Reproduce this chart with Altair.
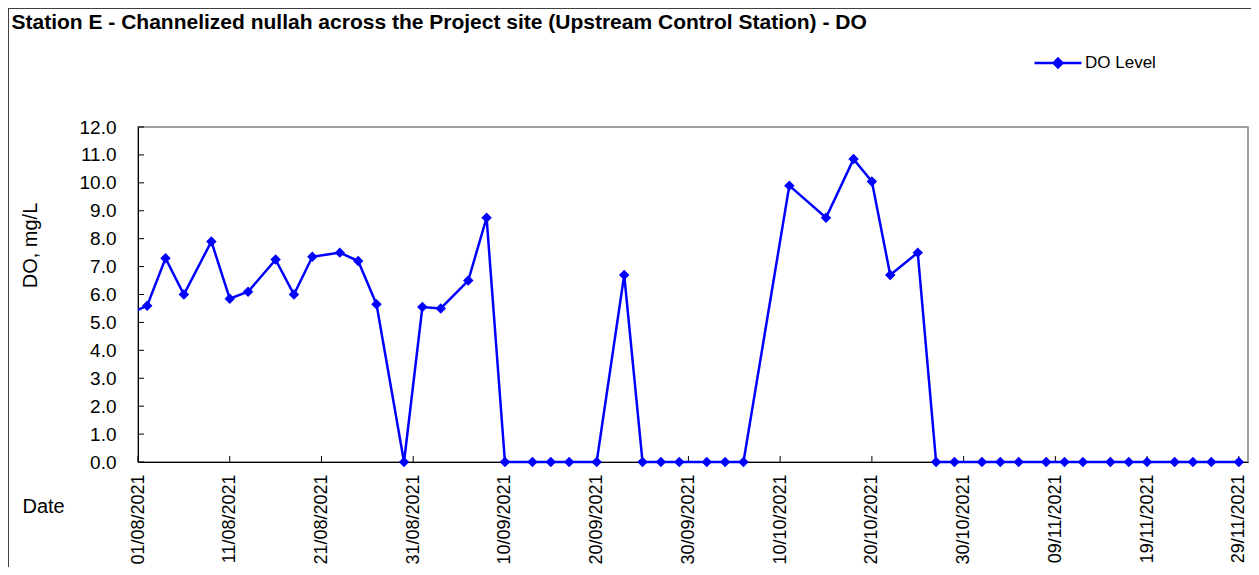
import altair as alt
import pandas as pd

# ---- data ----
dates = [
    "2021-07-31", "2021-08-02", "2021-08-04", "2021-08-06", "2021-08-09", "2021-08-11",
    "2021-08-13", "2021-08-16", "2021-08-18", "2021-08-20", "2021-08-23", "2021-08-25",
    "2021-08-27", "2021-08-30", "2021-09-01", "2021-09-03", "2021-09-06", "2021-09-08",
    "2021-09-10", "2021-09-13", "2021-09-15", "2021-09-17", "2021-09-20", "2021-09-23",
    "2021-09-25", "2021-09-27", "2021-09-29", "2021-10-02", "2021-10-04", "2021-10-06",
    "2021-10-11", "2021-10-15", "2021-10-18", "2021-10-20", "2021-10-22", "2021-10-25",
    "2021-10-27", "2021-10-29", "2021-11-01", "2021-11-03", "2021-11-05", "2021-11-08",
    "2021-11-10", "2021-11-12", "2021-11-15", "2021-11-17", "2021-11-19", "2021-11-22",
    "2021-11-24", "2021-11-26", "2021-11-29",
]
do_values = [
    5.3, 5.6, 7.3, 6.0, 7.9, 5.85,
    6.1, 7.25, 6.0, 7.35, 7.5, 7.2,
    5.65, 0.0, 5.55, 5.5, 6.5, 8.75,
    0.0, 0.0, 0.0, 0.0, 0.0, 6.7,
    0.0, 0.0, 0.0, 0.0, 0.0, 0.0,
    9.9, 8.75, 10.85, 10.05, 6.7, 7.5,
    0.0, 0.0, 0.0, 0.0, 0.0, 0.0,
    0.0, 0.0, 0.0, 0.0, 0.0, 0.0,
    0.0, 0.0, 0.0,
]
x_tick_dates = [
    "2021-08-01", "2021-08-11", "2021-08-21", "2021-08-31", "2021-09-10", "2021-09-20",
    "2021-09-30", "2021-10-10", "2021-10-20", "2021-10-30", "2021-11-09", "2021-11-19",
    "2021-11-29",
]
x_domain = ["2021-08-01", "2021-11-30"]
y_ticks = [0, 1, 2, 3, 4, 5, 6, 7, 8, 9, 10, 11, 12]
series_name = "DO Level"
chart_title = "Station E - Channelized nullah across the Project site (Upstream Control Station) - DO"
y_title = "DO, mg/L"
x_title = "Date"

df = pd.DataFrame({"date": dates, "value": do_values, "series": series_name})
df["idx"] = range(len(df))

W, H = 1110, 335
FONT = "Liberation Sans, Arial, sans-serif"
BLUE = "#0000FF"


def dt(s):
    y, m, d = map(int, s.split("-"))
    return alt.DateTime(year=y, month=m, date=d, utc=True)


x_scale = alt.Scale(type="utc", domain=[dt(x_domain[0]), dt(x_domain[1])])
y_scale = alt.Scale(domain=[0, 12], nice=False, zero=True)

x_axis = alt.Axis(
    values=[dt(s) for s in x_tick_dates], format="%d/%m/%Y", labelAngle=-90,
    labelFontSize=18, labelFont=FONT, labelColor="black", labelPadding=12,
    labelOverlap=False, labelFlush=False, ticks=False, domainColor="black",
    domainWidth=1, grid=False, title=x_title, titleX=-116, titleY=44,
    titleAlign="left", titleBaseline="middle", titleAngle=0, titleFontSize=20,
    titleFont=FONT, titleFontWeight="normal", titleColor="black",
)
y_axis = alt.Axis(
    values=y_ticks, format=".1f", labelFontSize=19, labelFont=FONT,
    labelColor="black", labelPadding=22, ticks=False, domainColor="black",
    domainWidth=1, grid=False, title=y_title, titleX=-108, titleY=118,
    titleAngle=-90, titleAlign="center", titleBaseline="middle", titleFontSize=20,
    titleFont=FONT, titleFontWeight="normal", titleColor="black",
)

legend = alt.Legend(
    title=None, orient="none", legendX=895, legendY=-89,
    symbolType="M-1,0L1,0M0,-0.19L0.19,0L0,0.19L-0.19,0Z", symbolSize=2209,
    symbolStrokeWidth=2.5, symbolFillColor=BLUE, symbolStrokeColor=BLUE,
    symbolOpacity=1,
    labelFontSize=17, labelFont=FONT, labelColor="black", labelOffset=2, padding=0,
)

color = alt.Color("series:N", scale=alt.Scale(range=[BLUE]), legend=legend)
xenc = alt.X("date:T", scale=x_scale, axis=x_axis)
yenc = alt.Y("value:Q", scale=y_scale, axis=y_axis)

line_first = (
    alt.Chart(df).transform_filter("datum.idx <= 1")
    .mark_line(strokeWidth=2.5, clip=True)
    .encode(x=xenc, y=yenc, color=color)
)
line_rest = (
    alt.Chart(df).transform_filter("datum.idx >= 1")
    .mark_line(strokeWidth=2.5)
    .encode(x=xenc, y=yenc, color=color)
)
points = (
    alt.Chart(df).transform_filter("datum.idx >= 1")
    .mark_point(shape="diamond", filled=True, size=110, color=BLUE, opacity=1)
    .encode(x=xenc, y=yenc)
)

y_tick_marks = (
    alt.Chart(pd.DataFrame({"v": y_ticks}))
    .mark_rule(color="black", strokeWidth=1)
    .encode(y=alt.Y("v:Q", scale=y_scale, axis=y_axis), x=alt.value(0), x2=alt.value(6))
)
x_tick_marks = (
    alt.Chart(pd.DataFrame({"d": x_tick_dates}))
    .mark_rule(color="black", strokeWidth=1)
    .encode(x=alt.X("d:T", scale=x_scale, axis=x_axis), y=alt.value(H), y2=alt.value(H - 6))
)

frame_src = pd.DataFrame({"a": [0]})
frame_left = alt.Chart(frame_src).mark_rule(color="#404040", strokeWidth=1).encode(
    x=alt.value(-129.5), y=alt.value(-119), y2=alt.value(H + 105))
frame_top = alt.Chart(frame_src).mark_rule(color="#404040", strokeWidth=1).encode(
    y=alt.value(-118.5), x=alt.value(-130), x2=alt.value(W + 3))

chart = (
    alt.layer(x_tick_marks, y_tick_marks, line_first, line_rest, points, frame_left, frame_top)
    .properties(
        width=W, height=H,
        title=alt.TitleParams(text=chart_title, anchor="start", font=FONT, fontSize=21,
                              fontWeight="bold", color="black", dx=4, offset=-21,
                              baseline="alphabetic", dy=21),
        padding={"left": 130, "top": 119, "right": 3, "bottom": 105},
        autosize=alt.AutoSizeParams(type="none"),
    )
    .configure_view(stroke="#808080", strokeWidth=1.5)
)

chart.save("out.html", embed_options={"renderer": "svg", "actions": False})
